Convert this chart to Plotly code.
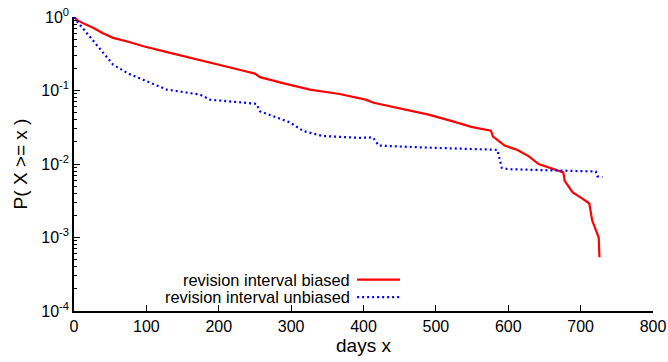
import plotly.graph_objects as go

# Data
biased_days = [0, 5, 15, 27, 40, 54, 75, 96, 130, 165, 200, 230, 250, 257, 290, 326, 367, 395, 403, 414,
               458, 490, 526, 549, 576, 579, 588, 595, 612, 628, 642, 657, 676, 678, 689, 702, 712, 716,
               723, 725, 726]
biased_p = [1.0, 0.9, 0.8, 0.71, 0.6, 0.52, 0.46, 0.40, 0.33, 0.27, 0.225, 0.19, 0.17, 0.152, 0.125, 0.103,
            0.0896, 0.078, 0.075, 0.068, 0.0553, 0.047, 0.0374, 0.032, 0.0284, 0.0236, 0.0202, 0.0178,
            0.0156, 0.0128, 0.01, 0.0089, 0.0077, 0.0059, 0.0041, 0.0034, 0.0029, 0.0017, 0.00115, 0.001,
            0.00054]

unbiased_days = [0, 5, 15, 27, 40, 54, 75, 96, 128, 174, 188, 252, 257, 280, 298, 317, 344, 395, 413, 421,
                 481, 585, 591, 600, 685, 721, 723, 730]
unbiased_p = [1.0, 0.85, 0.65, 0.47, 0.32, 0.225, 0.17, 0.14, 0.103, 0.088, 0.075, 0.066, 0.052, 0.043,
              0.037, 0.028, 0.024, 0.0227, 0.023, 0.0178, 0.0168, 0.0156, 0.0089, 0.0085, 0.008, 0.0079,
              0.0068, 0.0066]

series_names = ["revision interval biased", "revision interval unbiased"]
x_ticks = [0, 100, 200, 300, 400, 500, 600, 700, 800]
y_tickvals = [1, 0.1, 0.01, 0.001, 0.0001]
y_ticktext = ["10<sup>0</sup>", "10<sup>-1</sup>", "10<sup>-2</sup>", "10<sup>-3</sup>", "10<sup>-4</sup>"]
y_minor = [m * 10 ** e for e in range(-4, 0) for m in range(2, 10)]

FONT = "Liberation Sans, Arial, Helvetica, sans-serif"
FS = 16
DOTS = "2px,3px"

fig = go.Figure()
fig.add_trace(go.Scatter(x=biased_days, y=biased_p, mode="lines", name=series_names[0],
                         line=dict(color="#ff0000", width=2.2), showlegend=False))
fig.add_trace(go.Scatter(x=unbiased_days, y=unbiased_p, mode="lines", name=series_names[1],
                         line=dict(color="#0000ff", width=2.2, dash=DOTS), showlegend=False))

# gnuplot-style legend: right-aligned text followed by the line sample
legend_rows = [(0.107, "#ff0000", "solid"), (0.047, "#0000ff", DOTS)]
for name, (yy, col, dash) in zip(series_names, legend_rows):
    fig.add_annotation(x=0.480, y=yy, xref="paper", yref="paper", text=name, showarrow=False,
                       xanchor="right", yanchor="middle", font=dict(family=FONT, size=16.4, color="black"))
    fig.add_shape(type="line", xref="paper", yref="paper", x0=0.489, x1=0.563, y0=yy, y1=yy,
                  line=dict(color=col, width=2.2, dash=dash))

fig.update_layout(
    width=668, height=362,
    margin=dict(l=74, r=15, t=17, b=51),
    plot_bgcolor="white", paper_bgcolor="white",
    font=dict(family=FONT, size=FS, color="black"),
    xaxis=dict(range=[0, 800], tickvals=x_ticks, ticks="inside", ticklen=6, tickwidth=1,
               tickcolor="black", showline=True, linecolor="black", linewidth=1.5, showgrid=False,
               zeroline=False, automargin=False, title=dict(text="days x", standoff=5),
               tickfont=dict(size=FS)),
    yaxis=dict(type="log", range=[-4, 0], tickvals=y_tickvals, ticktext=y_ticktext,
               ticks="inside", ticklen=6, tickwidth=1, tickcolor="black", showline=True,
               linecolor="black", linewidth=1.5, showgrid=False, zeroline=False, automargin=False,
               minor=dict(tickmode="array", tickvals=y_minor, ticks="inside", ticklen=3,
                          tickcolor="black", showgrid=False),
               title=dict(text="P( X >= x )", standoff=9), tickfont=dict(size=FS)),
)

fig.write_html("out.html")
